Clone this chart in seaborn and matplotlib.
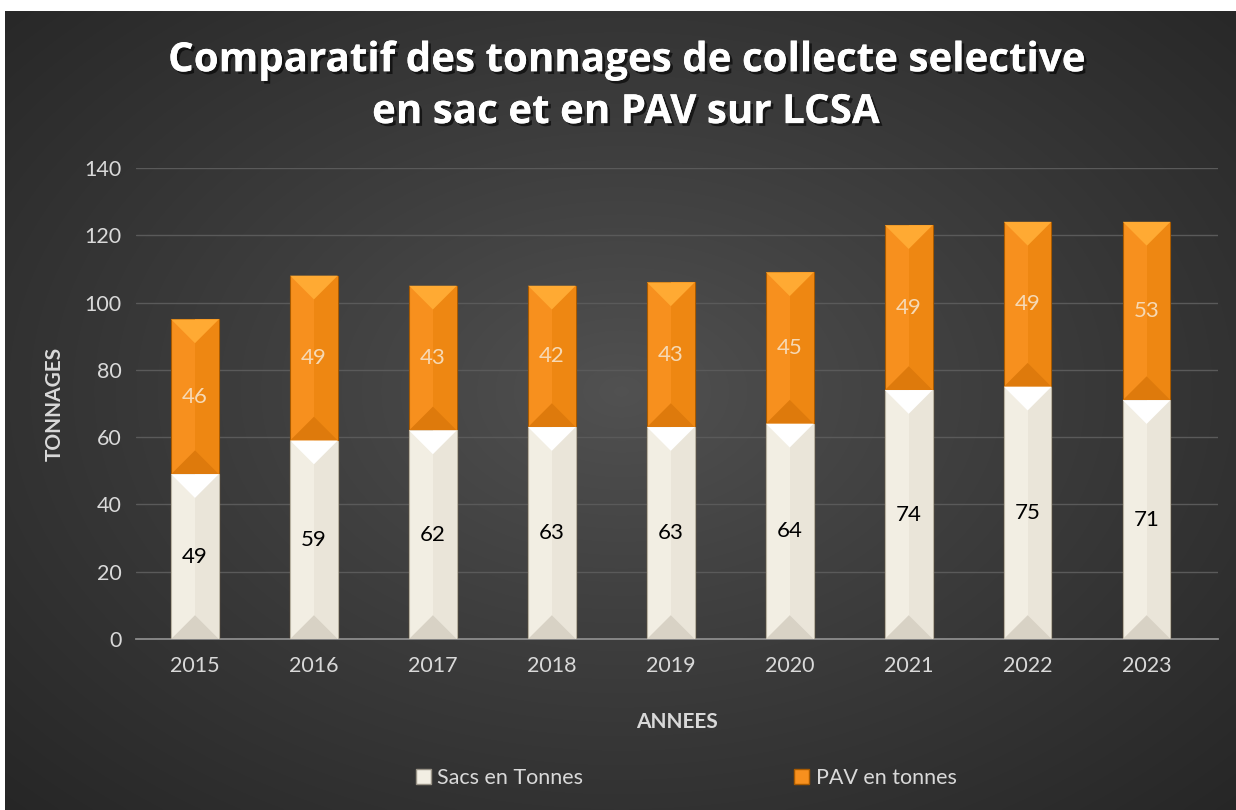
import numpy as np
import matplotlib
matplotlib.use("Agg")
import matplotlib.pyplot as plt
import matplotlib.patheffects as pe
from matplotlib.patches import Polygon, Patch
import seaborn as sns

# -- data --
years = ["2015", "2016", "2017", "2018", "2019", "2020", "2021", "2022", "2023"]
sacs = [49, 59, 62, 63, 63, 64, 74, 75, 71]
pav = [46, 49, 43, 42, 43, 45, 49, 49, 53]
totals = [s + p for s, p in zip(sacs, pav)]

sns.set_theme(style="dark")
plt.rcParams["font.family"] = ["Lato", "DejaVu Sans"]

W, H = 1236, 810
fig = plt.figure(figsize=(W / 100, H / 100), dpi=100, facecolor="white")

# -- background radial gradient --
bg = fig.add_axes([5 / W, 0, 1 - 5 / W, (H - 11) / H])
bg.set_axis_off()
yy, xx = np.mgrid[0:400, 0:600]
r = np.hypot((xx - 300) / 300, (yy - 190) / 210) / np.sqrt(2)
r = np.clip(r, 0, 1) ** 0.9
c0 = np.array([0.32, 0.32, 0.32])
c1 = np.array([0.15, 0.15, 0.15])
img = c0 + (c1 - c0) * r[..., None]
bg.imshow(img, aspect="auto", extent=[0, 1, 0, 1], interpolation="bilinear")
bg.set_xlim(0, 1)
bg.set_ylim(0, 1)

ax = fig.add_axes([135.5 / W, 171 / H, (1218 - 135.5) / W, (639 - 168) / H])
ax.set_facecolor("none")

orange = "#F7901E"
cream = "#F2EEE3"
sns.barplot(x=years, y=totals, color=orange, width=0.4, saturation=1,
            edgecolor="#A85A00", linewidth=0.8, ax=ax, zorder=3)
sns.barplot(x=years, y=sacs, color=cream, width=0.4, saturation=1,
            edgecolor="#B8B2A2", linewidth=0.8, ax=ax, zorder=3)

ax.set_ylim(0, 140)
ax.set_xlim(-0.5, 8.6)
ax.set_yticks(range(0, 141, 20))
ax.yaxis.grid(True, color="#5a5a5a", linewidth=1)
ax.xaxis.grid(False)
for s in ["top", "right", "left"]:
    ax.spines[s].set_visible(False)
ax.spines["bottom"].set_color("#8c8c8c")
ax.spines["bottom"].set_linewidth(1.3)
ax.tick_params(axis="both", colors="#d9d9d9", labelsize=15.5, length=0, pad=10)
ax.tick_params(axis="x", pad=12)

# -- bevel effect on each bar segment --
fig.canvas.draw()
px_per_unit_y = ax.transData.transform((0, 1))[1] - ax.transData.transform((0, 0))[1]
px_per_unit_x = ax.transData.transform((1, 0))[0] - ax.transData.transform((0, 0))[0]
n = len(years)
orange_bars = ax.patches[:n]
cream_bars = ax.patches[n:]


def bevel(x0, w, y0, y1, light, dark, side):
    d = (w * px_per_unit_x / 2) / px_per_unit_y
    xm = x0 + w / 2
    ax.add_patch(Polygon([(xm, y0), (x0 + w, y0), (x0 + w, y1), (xm, y1)],
                         closed=True, color=side, lw=0, zorder=3.5))
    ax.add_patch(Polygon([(x0, y1), (x0 + w, y1), (xm, y1 - d)],
                         closed=True, color=light, lw=0, zorder=3.6))
    ax.add_patch(Polygon([(x0, y0), (x0 + w, y0), (xm, y0 + d)],
                         closed=True, color=dark, lw=0, zorder=3.6))


for b, s, t in zip(orange_bars, sacs, totals):
    bevel(b.get_x(), b.get_width(), s, t, "#FFAA33", "#DE7A0C", "#EE8712")
for b, s in zip(cream_bars, sacs):
    bevel(b.get_x(), b.get_width(), 0, s, "#FFFFFF", "#D8D2C5", "#EAE5D9")

# -- data labels --
for i, (s, p) in enumerate(zip(sacs, pav)):
    ax.text(i, s / 2, str(s), ha="center", va="center", fontsize=16,
            color="black", zorder=5)
    ax.text(i, s + p / 2, str(p), ha="center", va="center", fontsize=16,
            color="#F6D9B4", zorder=5)

ax.set_xlabel("ANNEES", fontsize=15, fontweight="bold", color="#d9d9d9", labelpad=26)
ax.set_ylabel("TONNAGES", fontsize=15, fontweight="bold", color="#d9d9d9", labelpad=14)

shadow = [pe.withSimplePatchShadow(offset=(2, -2), shadow_rgbFace="black", alpha=0.6), pe.Normal()]
fig.text(0.506, 0.925, "Comparatif des tonnages de collecte selective",
         ha="center", va="center", fontsize=29, fontweight="bold", color="white",
         family=["Open Sans", "DejaVu Sans"], path_effects=shadow)
fig.text(0.506, 0.861, "en sac et en PAV sur LCSA",
         ha="center", va="center", fontsize=29, fontweight="bold", color="white",
         family=["Open Sans", "DejaVu Sans"], path_effects=shadow)

handles = [Patch(facecolor=cream, edgecolor="#9a9488", label="Sacs en Tonnes"),
           Patch(facecolor=orange, edgecolor="#A85A00", label="PAV en tonnes")]
leg = fig.legend(handles=handles, loc="center", bbox_to_anchor=(0.555, 0.04),
                 ncol=2, frameon=False, fontsize=15.5, labelcolor="#d9d9d9",
                 handlelength=0.7, handleheight=0.7, handletextpad=0.3,
                 columnspacing=9.8)

fig.savefig("out.png", dpi=100, facecolor="white")
